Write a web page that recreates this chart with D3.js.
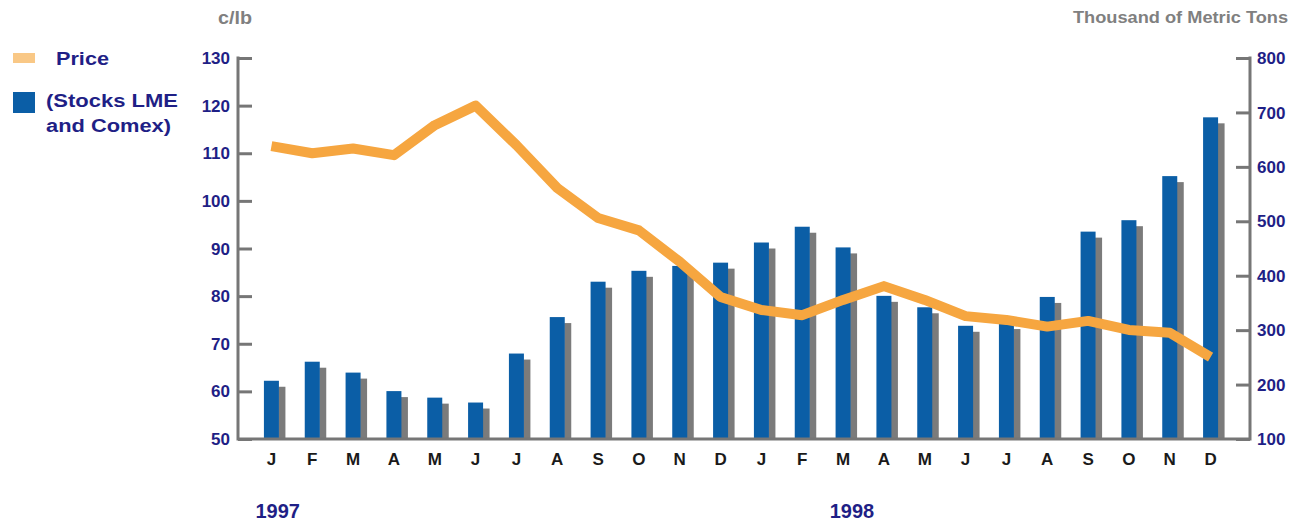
<!DOCTYPE html>
<html>
<head>
<meta charset="utf-8">
<script src="https://cdn.jsdelivr.net/npm/d3@7"></script>
<style>
  html, body { margin: 0; padding: 0; background: #ffffff; }
  svg { display: block; font-family: "Liberation Sans", Arial, sans-serif; }
</style>
</head>
<body>
<svg id="chart" width="1297" height="522"></svg>
<script>
// Months Jan 1997 – Dec 1998
const months = ["J","F","M","A","M","J","J","A","S","O","N","D",
                "J","F","M","A","M","J","J","A","S","O","N","D"];
const years = ["1997", "1998"];

// Copper price, c/lb
const price = [111.5, 110.0, 111.0, 109.6, 115.9, 120.0, 111.7, 102.7, 96.4, 93.8, 87.2, 79.8,
               77.1, 76.0, 79.2, 82.1, 79.2, 75.8, 75.0, 73.6, 74.8, 72.9, 72.3, 67.2];

// Stocks LME and Comex, thousand metric tons
const stocks = [207, 242, 222, 188, 176, 167, 257, 324, 389, 409, 418, 424,
                461, 490, 452, 363, 342, 308, 313, 361, 481, 502, 583, 691];

const priceTicks = [50, 60, 70, 80, 90, 100, 110, 120, 130];
const stockTicks = [100, 200, 300, 400, 500, 600, 700, 800];

const svg = d3.select("#chart");

const axisLeftX = 238, axisRightX = 1250;
const yTop = 58, yBottom = 439;

const x = d3.scaleBand()
  .domain(d3.range(months.length))
  .range([251, 1231])
  .paddingInner(0)
  .paddingOuter(0);

const yPrice = d3.scaleLinear().domain([50, 130]).range([yBottom, yTop]);
const yStock = d3.scaleLinear().domain([100, 800]).range([yBottom, yTop]);

const navy = "#1f1f86";
const axisGrey = "#767676";
const blue = "#0b5ea6";
const shadow = "#7b7b7b";
const orange = "#f6a640";

const barW = 15, shadowW = 7, shadowDrop = 6;
const cx = i => x(i) + x.bandwidth() / 2;

// Bars: shadow first, then the blue stock bar
const bars = svg.append("g");
bars.selectAll("rect.shadow")
  .data(stocks)
  .join("rect")
  .attr("class", "shadow")
  .attr("x", (d, i) => cx(i) + barW / 2 - 0.5)
  .attr("y", d => yStock(d) + shadowDrop)
  .attr("width", shadowW)
  .attr("height", d => yBottom - yStock(d) - shadowDrop)
  .attr("fill", shadow);

bars.selectAll("rect.stock")
  .data(stocks)
  .join("rect")
  .attr("class", "stock")
  .attr("x", (d, i) => cx(i) - barW / 2)
  .attr("y", d => yStock(d))
  .attr("width", barW)
  .attr("height", d => yBottom - yStock(d))
  .attr("fill", blue);

// Price line
const line = d3.line()
  .x((d, i) => cx(i))
  .y(d => yPrice(d))
  .curve(d3.curveLinear);

svg.append("path")
  .datum(price)
  .attr("d", line)
  .attr("fill", "none")
  .attr("stroke", orange)
  .attr("stroke-width", 10)
  .attr("stroke-linejoin", "round")
  .attr("stroke-linecap", "butt");

// Axes
const leftAxis = d3.axisRight(yPrice).tickValues(priceTicks).tickSize(14).tickFormat("");
const gL = svg.append("g").attr("transform", `translate(${axisLeftX},0)`).call(leftAxis);
const rightAxis = d3.axisLeft(yStock).tickValues(stockTicks).tickSize(14).tickFormat("");
const gR = svg.append("g").attr("transform", `translate(${axisRightX},0)`).call(rightAxis);
[gL, gR].forEach(g => {
  g.select(".domain").remove();
  g.selectAll(".tick line").attr("stroke", axisGrey).attr("stroke-width", 3);
});

svg.append("line")
  .attr("x1", axisLeftX).attr("x2", axisLeftX)
  .attr("y1", yTop - 1.5).attr("y2", yBottom + 1.5)
  .attr("stroke", axisGrey).attr("stroke-width", 3);
svg.append("line")
  .attr("x1", axisRightX).attr("x2", axisRightX)
  .attr("y1", yTop - 1.5).attr("y2", yBottom + 1.5)
  .attr("stroke", axisGrey).attr("stroke-width", 3);
svg.append("line")
  .attr("x1", axisLeftX).attr("x2", axisRightX)
  .attr("y1", yBottom).attr("y2", yBottom)
  .attr("stroke", axisGrey).attr("stroke-width", 3);

// Tick labels
svg.append("g").selectAll("text")
  .data(priceTicks)
  .join("text")
  .attr("x", 230)
  .attr("y", d => yPrice(d))
  .attr("dy", "0.36em")
  .attr("text-anchor", "end")
  .attr("font-size", 17)
  .attr("font-weight", "bold")
  .attr("fill", navy)
  .text(d => d);

svg.append("g").selectAll("text")
  .data(stockTicks)
  .join("text")
  .attr("x", 1257)
  .attr("y", d => yStock(d))
  .attr("dy", "0.36em")
  .attr("text-anchor", "start")
  .attr("font-size", 17)
  .attr("font-weight", "bold")
  .attr("fill", navy)
  .text(d => d);

// Month labels
svg.append("g").selectAll("text")
  .data(months)
  .join("text")
  .attr("x", (d, i) => cx(i))
  .attr("y", 465)
  .attr("text-anchor", "middle")
  .attr("font-size", 17)
  .attr("font-weight", "bold")
  .attr("fill", "#1a1a1a")
  .text(d => d);

// Year labels, placed under January 1997 and between February and March 1998
const yearX = [cx(0) - 16, (cx(13) + cx(14)) / 2 + 7];
svg.append("g").selectAll("text")
  .data(years)
  .join("text")
  .attr("x", (d, i) => yearX[i])
  .attr("y", 518)
  .attr("font-size", 20)
  .attr("font-weight", "bold")
  .attr("fill", navy)
  .text(d => d);

// Axis units
svg.append("text")
  .attr("x", 218).attr("y", 24)
  .attr("font-size", 18).attr("font-weight", "bold")
  .attr("fill", "#808080")
  .attr("textLength", 34).attr("lengthAdjust", "spacingAndGlyphs")
  .text("c/lb");
svg.append("text")
  .attr("x", 1073).attr("y", 23)
  .attr("font-size", 16).attr("font-weight", "bold")
  .attr("fill", "#808080")
  .attr("textLength", 215).attr("lengthAdjust", "spacingAndGlyphs")
  .text("Thousand of Metric Tons");

// Legend
const legend = svg.append("g");
legend.append("rect").attr("x", 13).attr("y", 53).attr("width", 22).attr("height", 10).attr("fill", "#f9c886");
legend.append("text").attr("x", 56).attr("y", 65)
  .attr("font-size", 18).attr("font-weight", "bold").attr("fill", navy)
  .attr("textLength", 53).attr("lengthAdjust", "spacingAndGlyphs")
  .text("Price");
legend.append("rect").attr("x", 13).attr("y", 92).attr("width", 22).attr("height", 21).attr("fill", blue);
legend.append("text").attr("x", 46).attr("y", 107)
  .attr("font-size", 18).attr("font-weight", "bold").attr("fill", navy)
  .attr("textLength", 132).attr("lengthAdjust", "spacingAndGlyphs")
  .text("(Stocks LME");
legend.append("text").attr("x", 46).attr("y", 132)
  .attr("font-size", 18).attr("font-weight", "bold").attr("fill", navy)
  .attr("textLength", 125).attr("lengthAdjust", "spacingAndGlyphs")
  .text("and Comex)");
</script>
</body>
</html>
